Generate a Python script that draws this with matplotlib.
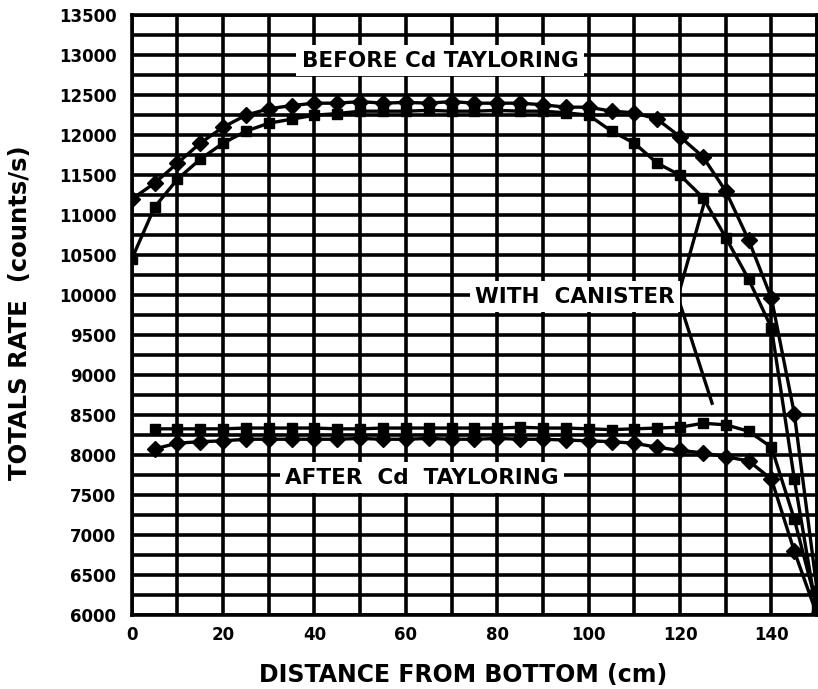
import matplotlib
matplotlib.use("Agg")
import matplotlib.pyplot as plt
import numpy as np

# ---- data ----
x_before_bare = [0, 5, 10, 15, 20, 25, 30, 35, 40, 45, 50, 55, 60, 65, 70, 75, 80, 85, 90, 95, 100, 105, 110, 115, 120, 125, 130, 135, 140, 145, 150]
y_before_bare = [11200, 11400, 11650, 11900, 12100, 12250, 12330, 12370, 12400, 12400, 12420, 12400, 12410, 12400, 12420, 12400, 12400, 12400, 12380, 12350, 12350, 12300, 12280, 12200, 11980, 11730, 11300, 10690, 9960, 8520, 6300]

x_before_can = [0, 5, 10, 15, 20, 25, 30, 35, 40, 45, 50, 55, 60, 65, 70, 75, 80, 85, 90, 95, 100, 105, 110, 115, 120, 125, 130, 135, 140, 145, 150]
y_before_can = [10450, 11100, 11450, 11700, 11900, 12050, 12150, 12200, 12250, 12270, 12300, 12300, 12300, 12310, 12300, 12300, 12310, 12300, 12300, 12280, 12250, 12050, 11900, 11650, 11500, 11220, 10720, 10200, 9590, 7700, 6000]

x_after_can = [5, 10, 15, 20, 25, 30, 35, 40, 45, 50, 55, 60, 65, 70, 75, 80, 85, 90, 95, 100, 105, 110, 115, 120, 125, 130, 135, 140, 145, 150]
y_after_can = [8330, 8330, 8330, 8330, 8340, 8340, 8340, 8340, 8330, 8330, 8340, 8340, 8340, 8340, 8340, 8340, 8350, 8340, 8340, 8330, 8320, 8330, 8340, 8350, 8400, 8380, 8300, 8100, 7200, 6100]

x_after_bare = [5, 10, 15, 20, 25, 30, 35, 40, 45, 50, 55, 60, 65, 70, 75, 80, 85, 90, 95, 100, 105, 110, 115, 120, 125, 130, 135, 140, 145, 150]
y_after_bare = [8080, 8150, 8170, 8180, 8200, 8200, 8200, 8200, 8200, 8210, 8200, 8200, 8210, 8200, 8200, 8210, 8200, 8200, 8190, 8180, 8170, 8150, 8100, 8060, 8030, 7980, 7930, 7700, 6800, 6000]

x_ticks = [0, 20, 40, 60, 80, 100, 120, 140]
y_ticks = [6000, 6500, 7000, 7500, 8000, 8500, 9000, 9500, 10000, 10500, 11000, 11500, 12000, 12500, 13000, 13500]

label_before = "BEFORE Cd TAYLORING"
label_after = "AFTER  Cd  TAYLORING"
label_canister = "WITH  CANISTER"
xlabel = "DISTANCE FROM BOTTOM (cm)"
ylabel = "TOTALS RATE  (counts/s)"

plt.rcParams['font.family'] = ['DejaVu Sans']

fig = plt.figure(figsize=(8.18, 6.89), dpi=100)
ax = fig.add_axes([0.161, 0.107, 0.838, 0.871])
ax.set_xlim(0, 150)
ax.set_ylim(6000, 13500)

# grid
ax.set_xticks(np.arange(0, 151, 10), minor=True)
ax.set_yticks(np.arange(6000, 13501, 250), minor=True)
ax.set_xticks(x_ticks)
ax.set_yticks(y_ticks)
ax.grid(which='both', color='black', linewidth=2.6)
ax.set_axisbelow(True)
ax.set_xticklabels([str(v) for v in x_ticks], fontsize=12, fontweight='bold')
ax.set_yticklabels([str(v) for v in y_ticks], fontsize=12, fontweight='bold')
ax.tick_params(which='both', length=0)
ax.tick_params(axis='y', pad=11)
ax.tick_params(axis='x', pad=8)
for s in ax.spines.values():
    s.set_linewidth(2.6)

ax.plot(x_before_bare, y_before_bare, color='black', lw=2.4, marker='D', ms=8, zorder=3)
ax.plot(x_before_can, y_before_can, color='black', lw=2.4, marker='s', ms=7.5, zorder=3)
ax.plot(x_after_can, y_after_can, color='black', lw=2.4, marker='s', ms=7.5, zorder=3)
ax.plot(x_after_bare, y_after_bare, color='black', lw=2.4, marker='D', ms=8, zorder=3)

bbox = dict(boxstyle='square,pad=0.25', fc='white', ec='none')
ax.text(67.5, 12930, label_before, ha='center', va='center', fontsize=15.5, fontweight='bold', bbox=bbox, zorder=4)
ax.text(63.5, 7720, label_after, ha='center', va='center', fontsize=15.5, fontweight='bold', bbox=bbox, zorder=4)
ax.text(97, 9980, label_canister, ha='center', va='center', fontsize=15.5, fontweight='bold', bbox=bbox, zorder=4)

# leader lines from the canister label
ax.plot([119.5, 125.5], [9980, 11200], color='black', lw=2.4, zorder=3)
ax.plot([119.5, 127], [9980, 8650], color='black', lw=2.4, zorder=3)

ax.set_xlabel(xlabel, fontsize=17, fontweight='bold', va='center')
ax.set_ylabel(ylabel, fontsize=17.5, fontweight='bold')
ax.xaxis.set_label_coords(0.484, -0.100)
ax.yaxis.set_label_coords(-0.145, 0.505)

fig.savefig('out.png', dpi=100)
